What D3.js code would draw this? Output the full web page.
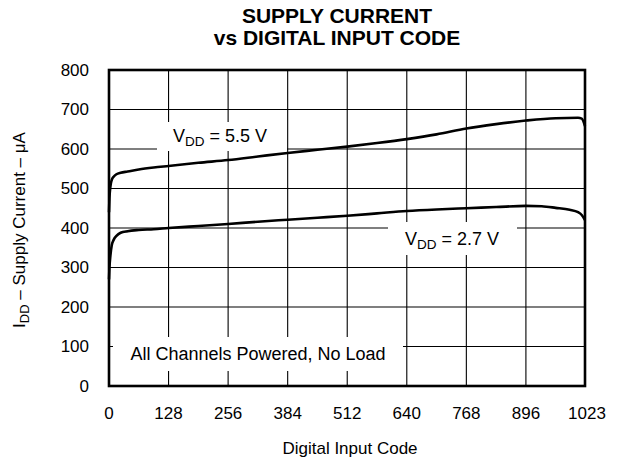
<!DOCTYPE html>
<html><head><meta charset="utf-8">
<script src="https://cdn.jsdelivr.net/npm/d3@7/dist/d3.min.js"></script>
<style>
body{margin:0;background:#fff;}
svg text{font-family:"Liberation Sans",Arial,Helvetica,sans-serif;fill:#000;}
</style></head>
<body><svg id="c" width="621" height="462"></svg>
<script>
const xTicks = [0,128,256,384,512,640,768,896,1023];
const yTicks = [0,100,200,300,400,500,600,700,800];
const codes55 = [0,1,3,6,10,16,25,40,64,96,128,192,256,320,384,448,512,576,640,704,768,832,896,960,1008,1016,1023];
const vals55  = [440,475,505,522,530,536,540,543,548,553,557,565,572,581,590,598,606,615,625,637,652,663,672,678,679,677,658];
const codes27 = [0,1,3,6,10,16,25,40,64,96,128,192,256,320,384,448,512,576,640,704,768,832,896,930,960,990,1008,1016,1023];
const vals27  = [270,300,330,357,370,380,388,392,395,397,400,405,410,416,421,426,431,437,443,447,450,453,456,455,451,446,440,433,420];

const svg = d3.select("#c");
const L=109,R=585,T=70,B=386;
const x = d3.scaleLinear().domain([0,1023]).range([L,R]);
const y = d3.scaleLinear().domain([0,800]).range([B,T]);

// gridlines
const g = svg.append("g");
g.selectAll(".vx").data(xTicks.slice(1,-1)).enter().append("line")
  .attr("x1",d=>x(d)).attr("x2",d=>x(d)).attr("y1",T).attr("y2",B)
  .attr("stroke","#000").attr("stroke-width",1.1);
g.selectAll(".hy").data(yTicks.slice(1,-1)).enter().append("line")
  .attr("x1",L).attr("x2",R).attr("y1",d=>y(d)).attr("y2",d=>y(d))
  .attr("stroke","#000").attr("stroke-width",1.1);

// label boxes (white)
const boxes = [[157,122,130,29],[388,222,129,33],[113,337,290,34]];
svg.selectAll(".bx").data(boxes).enter().append("rect")
  .attr("x",d=>d[0]).attr("y",d=>d[1]).attr("width",d=>d[2]).attr("height",d=>d[3]).attr("fill","#fff");

// curves
const line = d3.line().x(d=>x(d[0])).y(d=>y(d[1])).curve(d3.curveMonotoneX);
[[codes55,vals55],[codes27,vals27]].forEach(([c,v])=>{
  svg.append("path").datum(c.map((k,i)=>[k,v[i]])).attr("d",line)
    .attr("fill","none").attr("stroke","#000").attr("stroke-width",2.6).attr("stroke-linejoin","round");
});

// frame
svg.append("rect").attr("x",L).attr("y",T).attr("width",R-L).attr("height",B-T)
  .attr("fill","none").attr("stroke","#000").attr("stroke-width",2.6);

// axes labels
svg.selectAll(".xt").data(xTicks).enter().append("text")
  .attr("x",d=>x(d)+(d===1023?2:0)).attr("y",419).attr("text-anchor","middle")
  .attr("font-size",17).text(d=>d);
svg.selectAll(".yt").data(yTicks).enter().append("text")
  .attr("x",89).attr("y",d=>y(d)).attr("dy","0.33em").attr("text-anchor","end")
  .attr("font-size",17).text(d=>d);

// titles
const t = svg.append("text").attr("text-anchor","middle").attr("font-weight","bold").attr("font-size",21);
t.append("tspan").attr("x",337).attr("y",23).text("SUPPLY CURRENT");
t.append("tspan").attr("x",337).attr("y",45).text("vs DIGITAL INPUT CODE");

svg.append("text").attr("x",350).attr("y",454).attr("text-anchor","middle").attr("font-size",17).text("Digital Input Code");

const yt = svg.append("text").attr("transform","translate(25,230) rotate(-90)").attr("text-anchor","middle").attr("font-size",17);
yt.append("tspan").text("I");
yt.append("tspan").attr("font-size",13).attr("dy",4).text("DD");
yt.append("tspan").attr("dy",-4).text(" \u2013 Supply Current \u2013 \u03bcA");

function vlabel(px,py,rest){
  const tx = svg.append("text").attr("x",px).attr("y",py).attr("font-size",18);
  tx.append("tspan").text("V");
  tx.append("tspan").attr("font-size",13.5).attr("dy",4).text("DD");
  tx.append("tspan").attr("dy",-4).text(rest);
}
vlabel(173,142," = 5.5 V");
vlabel(405,245," = 2.7 V");

svg.append("text").attr("x",258).attr("y",360).attr("text-anchor","middle").attr("font-size",18).text("All Channels Powered, No Load");
</script></body></html>
